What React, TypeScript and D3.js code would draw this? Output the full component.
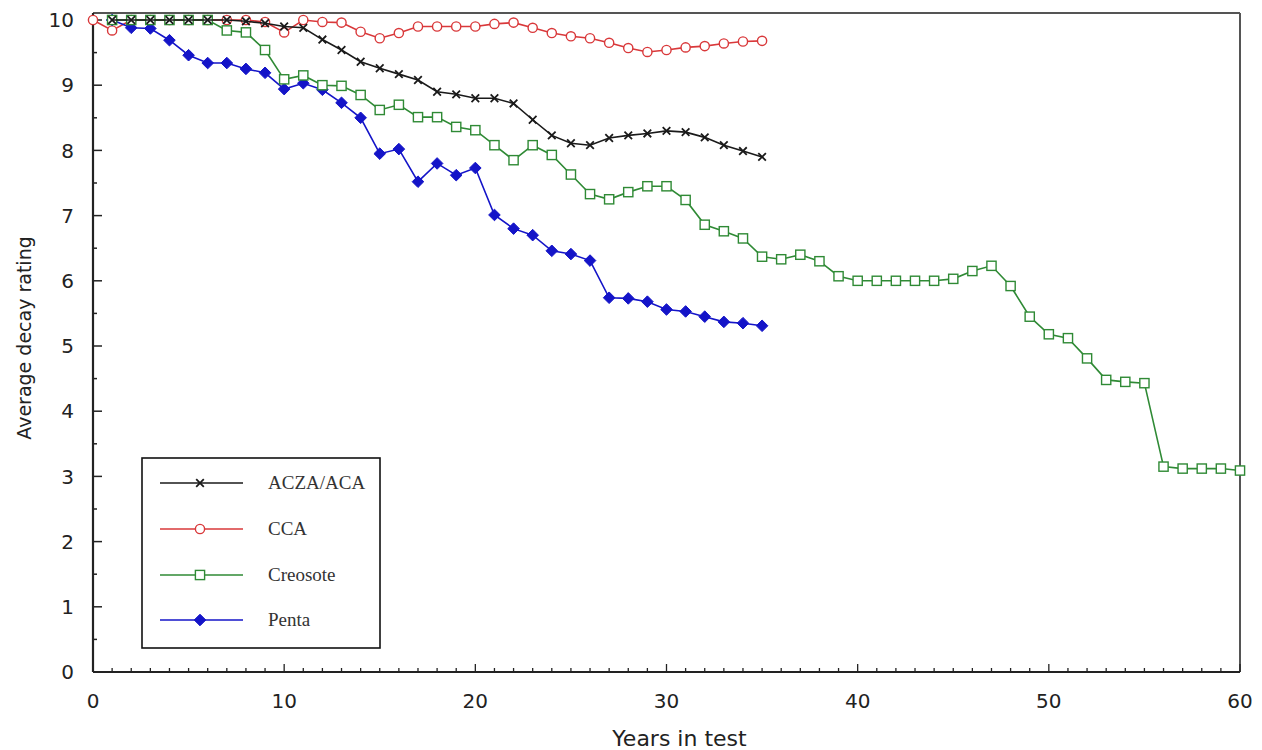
import React from "react";
import * as d3 from "d3";

// ---- data ----
const aczaStart = 1;
const aczaValues = [10, 10, 10, 10, 10, 10, 10, 9.98, 9.95, 9.9, 9.88, 9.7, 9.54, 9.36, 9.26, 9.17, 9.08, 8.9, 8.86, 8.8, 8.8, 8.72, 8.47, 8.23, 8.11, 8.08, 8.19, 8.23, 8.26, 8.3, 8.28, 8.2, 8.08, 7.99, 7.9];

const ccaStart = 0;
const ccaValues = [10, 9.84, 10, 10, 10, 10, 10, 10, 10, 9.97, 9.81, 10, 9.97, 9.96, 9.82, 9.72, 9.8, 9.9, 9.9, 9.9, 9.9, 9.94, 9.96, 9.88, 9.8, 9.75, 9.72, 9.65, 9.57, 9.51, 9.54, 9.58, 9.6, 9.64, 9.67, 9.68];

const creosoteStart = 1;
const creosoteValues = [10, 10, 10, 10, 10, 10, 9.84, 9.81, 9.54, 9.09, 9.15, 9.0, 8.99, 8.85, 8.62, 8.7, 8.51, 8.51, 8.36, 8.31, 8.08, 7.85, 8.08, 7.93, 7.63, 7.33, 7.25, 7.36, 7.45, 7.45, 7.24, 6.86, 6.76, 6.65, 6.37, 6.33, 6.4, 6.3, 6.07, 6.0, 6.0, 6.0, 6.0, 6.0, 6.03, 6.15, 6.23, 5.92, 5.45, 5.18, 5.12, 4.81, 4.48, 4.45, 4.43, 3.15, 3.12, 3.12, 3.12, 3.09];

const pentaStart = 1;
const pentaValues = [10, 9.88, 9.87, 9.69, 9.46, 9.34, 9.34, 9.25, 9.19, 8.94, 9.03, 8.93, 8.73, 8.5, 7.95, 8.02, 7.52, 7.8, 7.62, 7.73, 7.01, 6.8, 6.7, 6.46, 6.41, 6.31, 5.74, 5.73, 5.68, 5.56, 5.53, 5.45, 5.37, 5.35, 5.31];

const xTicks = [0, 10, 20, 30, 40, 50, 60];
const yTicks = [0, 1, 2, 3, 4, 5, 6, 7, 8, 9, 10];
const legendNames = ["ACZA/ACA", "CCA", "Creosote", "Penta"];

const W = 1262;
const H = 750;
const x = d3.scaleLinear().domain([0, 60]).range([93, 1240]);
const y = d3.scaleLinear().domain([0, 10]).range([672, 20]);
const topY = 13;

type Kind = "cross" | "circle" | "square" | "diamond";
interface Series { name: string; start: number; values: number[]; color: string; kind: Kind; }

const series: Series[] = [
  { name: legendNames[0], start: aczaStart, values: aczaValues, color: "#1a1a1a", kind: "cross" },
  { name: legendNames[1], start: ccaStart, values: ccaValues, color: "#d9383a", kind: "circle" },
  { name: legendNames[2], start: creosoteStart, values: creosoteValues, color: "#2f8a35", kind: "square" },
  { name: legendNames[3], start: pentaStart, values: pentaValues, color: "#1414c8", kind: "diamond" },
];
const drawOrder = [1, 3, 2, 0];

function Marker({ kind, cx, cy, color }: { kind: Kind; cx: number; cy: number; color: string }) {
  if (kind === "cross") {
    const s = 3.8;
    return (
      <path d={`M${cx - s},${cy - s}L${cx + s},${cy + s}M${cx - s},${cy + s}L${cx + s},${cy - s}`} stroke={color} strokeWidth={1.8} fill="none" />
    );
  }
  if (kind === "circle") {
    return <circle cx={cx} cy={cy} r={4.6} fill="#fff" stroke={color} strokeWidth={1.4} />;
  }
  if (kind === "square") {
    const s = 4.6;
    return <rect x={cx - s} y={cy - s} width={2 * s} height={2 * s} fill="#fff" stroke={color} strokeWidth={1.4} />;
  }
  const s = 5.8;
  return <path d={`M${cx},${cy - s}L${cx + s},${cy}L${cx},${cy + s}L${cx - s},${cy}Z`} fill={color} stroke={color} strokeWidth={1} />;
}

export default function App() {
  const line = d3.line<[number, number]>().x((d) => x(d[0])).y((d) => y(d[1]));
  const axisFont = "'DejaVu Sans', sans-serif";

  const xMinor = d3.range(0, 61, 1);
  const yMinor = d3.range(0, 10.01, 0.5);

  const legendX = 142, legendY = 458, legendW = 238, legendH = 190;
  const legendRows = [483, 529, 575, 620];

  return (
    <svg width={W} height={H} style={{ position: "absolute", left: 0, top: 0, background: "#fff" }}>
      {/* frame */}
      <line x1={x(0)} x2={x(60)} y1={topY} y2={topY} stroke="#555" strokeWidth={2} />
      <line x1={x(60)} x2={x(60)} y1={topY} y2={y(0)} stroke="#555" strokeWidth={2} />

      {/* x ticks */}
      {xMinor.map((t) => (
        <line key={"xm" + t} x1={x(t)} x2={x(t)} y1={y(0)} y2={y(0) - (t % 10 === 0 ? 8 : 4)} stroke="#222" strokeWidth={1.3} />
      ))}
      {/* y ticks */}
      {yMinor.map((t) => (
        <line key={"ym" + t} x1={x(0)} x2={x(0) + (Math.abs(t - Math.round(t)) < 1e-6 ? 9 : 4)} y1={y(t)} y2={y(t)} stroke="#222" strokeWidth={1.5} />
      ))}

      {/* axes */}
      <line x1={x(0)} x2={x(60)} y1={y(0)} y2={y(0)} stroke="#222" strokeWidth={2} />
      <line x1={x(0)} x2={x(0)} y1={topY} y2={y(0)} stroke="#222" strokeWidth={2.2} />

      {xTicks.map((t) => (
        <text key={"xt" + t} x={x(t)} y={708} textAnchor="middle" fontFamily={axisFont} fontSize={20} fill="#222">{t}</text>
      ))}
      {yTicks.map((t) => (
        <text key={"yt" + t} x={74} y={y(t)} dy="0.36em" textAnchor="end" fontFamily={axisFont} fontSize={20} fill="#222">{t}</text>
      ))}

      <text x={x(30) + 13} y={746} textAnchor="middle" fontFamily={axisFont} fontSize={22} fill="#222">Years in test</text>
      <text transform={`translate(31,338) rotate(-90)`} textAnchor="middle" fontFamily={axisFont} fontSize={19} fill="#222">Average decay rating</text>

      {/* series */}
      {drawOrder.map((i) => {
        const s = series[i];
        const pts: [number, number][] = s.values.map((v, k) => [s.start + k, v]);
        return (
          <g key={s.name}>
            <path d={line(pts) || ""} fill="none" stroke={s.color} strokeWidth={1.6} />
            {pts.map((p, k) => (
              <Marker key={k} kind={s.kind} cx={x(p[0])} cy={y(p[1])} color={s.color} />
            ))}
          </g>
        );
      })}

      {/* legend */}
      <rect x={legendX} y={legendY} width={legendW} height={legendH} fill="#fff" stroke="#111" strokeWidth={1.6} />
      {series.map((s, i) => (
        <g key={"lg" + s.name}>
          <line x1={160} x2={243} y1={legendRows[i]} y2={legendRows[i]} stroke={s.color} strokeWidth={1.5} />
          <Marker kind={s.kind} cx={200} cy={legendRows[i]} color={s.color} />
          <text x={268} y={legendRows[i]} dy="0.34em" fontFamily="'Liberation Serif', 'Times New Roman', serif" fontSize={19} fill="#333">{s.name}</text>
        </g>
      ))}
    </svg>
  );
}
